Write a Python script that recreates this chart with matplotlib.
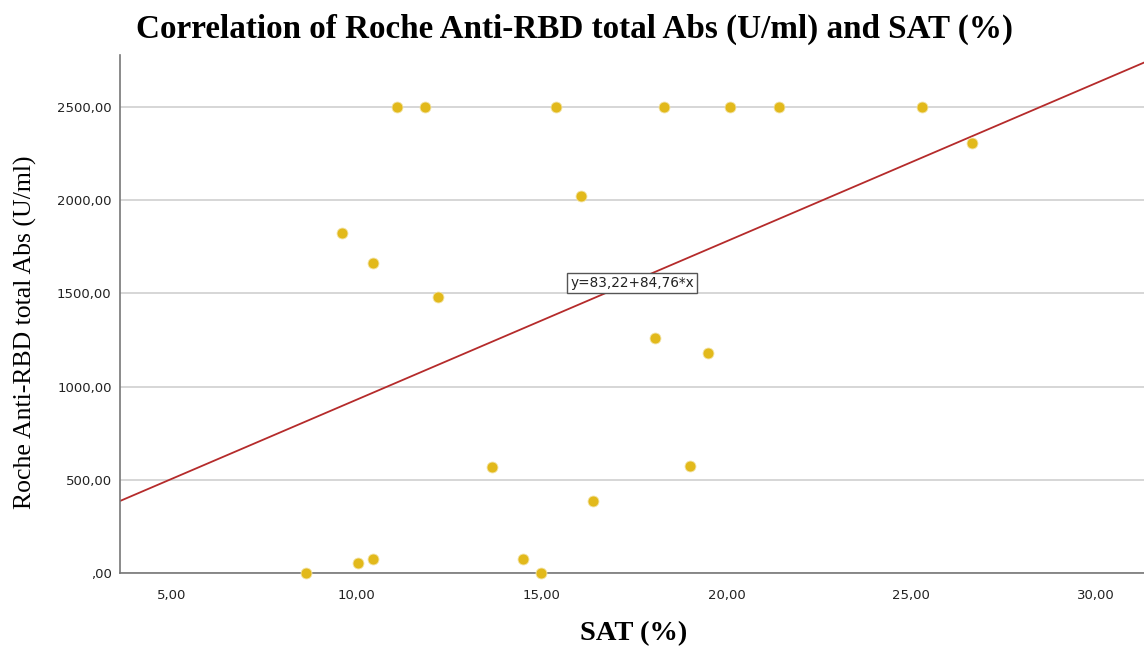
import matplotlib.pyplot as plt
from matplotlib.ticker import FuncFormatter

# Data
sat = [11.08, 11.83, 15.39, 18.32, 20.10, 21.42, 25.29,
       26.65, 16.07, 9.61, 10.44, 12.20, 18.07, 19.50,
       13.65, 19.02, 16.40, 14.49, 14.98, 8.63, 10.02, 10.44]
abs_ = [2500, 2500, 2500, 2500, 2500, 2500, 2500,
        2307, 2021, 1821, 1664, 1482, 1260, 1180,
        571, 575, 387, 77, 0, 0, 57, 75]

intercept = 83.22
slope = 84.76

xticks = [5, 10, 15, 20, 25, 30]
yticks = [0, 500, 1000, 1500, 2000, 2500]


def comma_fmt(v, pos=None):
    s = f"{v:.2f}".replace(".", ",")
    if s.startswith("0,"):
        s = s[1:]
    return s


fig = plt.figure(figsize=(11.44, 6.49), dpi=100)
ax = fig.add_axes([0.1049, 0.1166, 0.8951, 0.7987])

xmin, xmax = 3.59, 31.3
ax.set_xlim(xmin, xmax)
ax.set_ylim(0, 2777)

# grid
ax.set_yticks(yticks)
ax.set_xticks(xticks)
ax.yaxis.grid(True, color='#cfcfcf', linewidth=1.2)
ax.set_axisbelow(True)

# regression line
ax.plot([xmin, xmax], [intercept + slope * xmin, intercept + slope * xmax],
        color='#b52b2b', linewidth=1.3, zorder=2)

# points
ax.scatter(sat, abs_, s=62, color='#e2b91b', edgecolors='#f3e4a8',
           linewidths=0.6, zorder=3, clip_on=False)

# equation label
eq = f"y={intercept:.2f}+{slope:.2f}*x".replace(".", ",")
ax.text(17.45, 1555, eq, ha='center', va='center', fontsize=9.8,
        family='DejaVu Sans', color='#222222', zorder=4,
        bbox=dict(boxstyle='square,pad=0.25', facecolor='white',
                  edgecolor='#555555', linewidth=1.0))

ax.xaxis.set_major_formatter(FuncFormatter(comma_fmt))
ax.yaxis.set_major_formatter(FuncFormatter(comma_fmt))
ax.tick_params(axis='both', length=0, labelsize=9.5, labelcolor='#222222')
ax.tick_params(axis='x', pad=11)
ax.tick_params(axis='y', pad=6)

for s in ['top', 'right']:
    ax.spines[s].set_visible(False)
for s in ['left', 'bottom']:
    ax.spines[s].set_color('#777777')
    ax.spines[s].set_linewidth(1.2)

fig.text(0.502, 0.955, 'Correlation of Roche Anti-RBD total Abs (U/ml) and SAT (%)',
         ha='center', va='center', fontsize=23.9, fontweight='bold',
         family='Liberation Serif')
fig.text(0.554, 0.023, 'SAT (%)', ha='center', va='center', fontsize=20.5,
         fontweight='bold', family='Liberation Serif')
fig.text(0.022, 0.488, 'Roche Anti-RBD total Abs (U/ml)', ha='center', va='center',
         rotation=90, fontsize=18.5, family='Liberation Serif')

plt.savefig('out.png', dpi=100)
